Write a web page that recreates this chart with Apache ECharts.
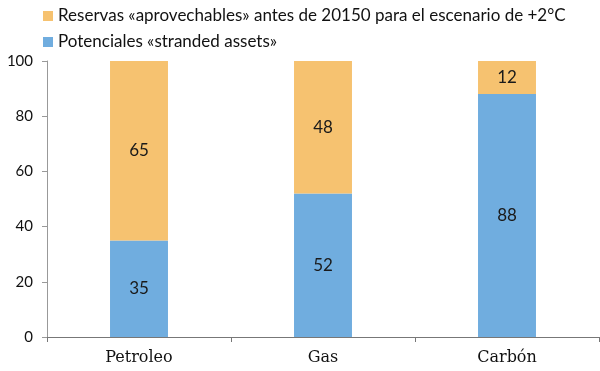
<!DOCTYPE html>
<html><head><meta charset="utf-8">
<script src="https://cdn.jsdelivr.net/npm/echarts@6/dist/echarts.min.js"></script>
<style>html,body{margin:0;padding:0;background:#fff}#c{width:600px;height:371px}</style>
</head><body><div id="c"></div>
<script>
const categories = ['Petroleo', 'Gas', 'Carbón'];
const stranded = [35, 52, 88];
const usable = [65, 48, 12];
const seriesNames = ['Reservas «aprovechables» antes de 20150 para el escenario de +2°C', 'Potenciales «stranded assets»'];

const chart = echarts.init(document.getElementById('c'));
const lbl = {show: true, position: 'inside', color: '#1a1a1a', fontSize: 17, fontFamily: 'Lato'};
chart.setOption({
  animation: false,
  legend: {
    orient: 'vertical', left: 38, top: 7, itemWidth: 10, itemHeight: 10, itemGap: 8,
    icon: 'rect', padding: [0, 5],
    textStyle: {fontSize: 17, fontFamily: 'Lato', color: '#111', lineHeight: 18},
    data: [seriesNames[0], seriesNames[1]]
  },
  grid: {left: 47, right: 1, top: 61, bottom: 34},
  xAxis: {
    type: 'category', data: categories,
    axisLine: {lineStyle: {color: '#777'}},
    axisTick: {show: true, alignWithLabel: false, length: 5, lineStyle: {color: '#777'}},
    axisLabel: {fontSize: 16, fontFamily: 'DejaVu Serif', color: '#111', margin: 13}
  },
  yAxis: {
    type: 'value', min: 0, max: 100, interval: 20,
    axisLine: {show: true, lineStyle: {color: '#999'}},
    axisTick: {show: true, length: 5, lineStyle: {color: '#999'}},
    splitLine: {show: false},
    axisLabel: {fontSize: 15, fontFamily: 'Lato', color: '#111', margin: 14}
  },
  series: [
    {name: seriesNames[1], type: 'bar', stack: 's', data: stranded, barWidth: '31.5%',
     itemStyle: {color: '#70ADDF'}, label: lbl},
    {name: seriesNames[0], type: 'bar', stack: 's', data: usable, barWidth: '31.5%',
     itemStyle: {color: '#F6C270'}, label: lbl}
  ]
});
</script></body></html>
